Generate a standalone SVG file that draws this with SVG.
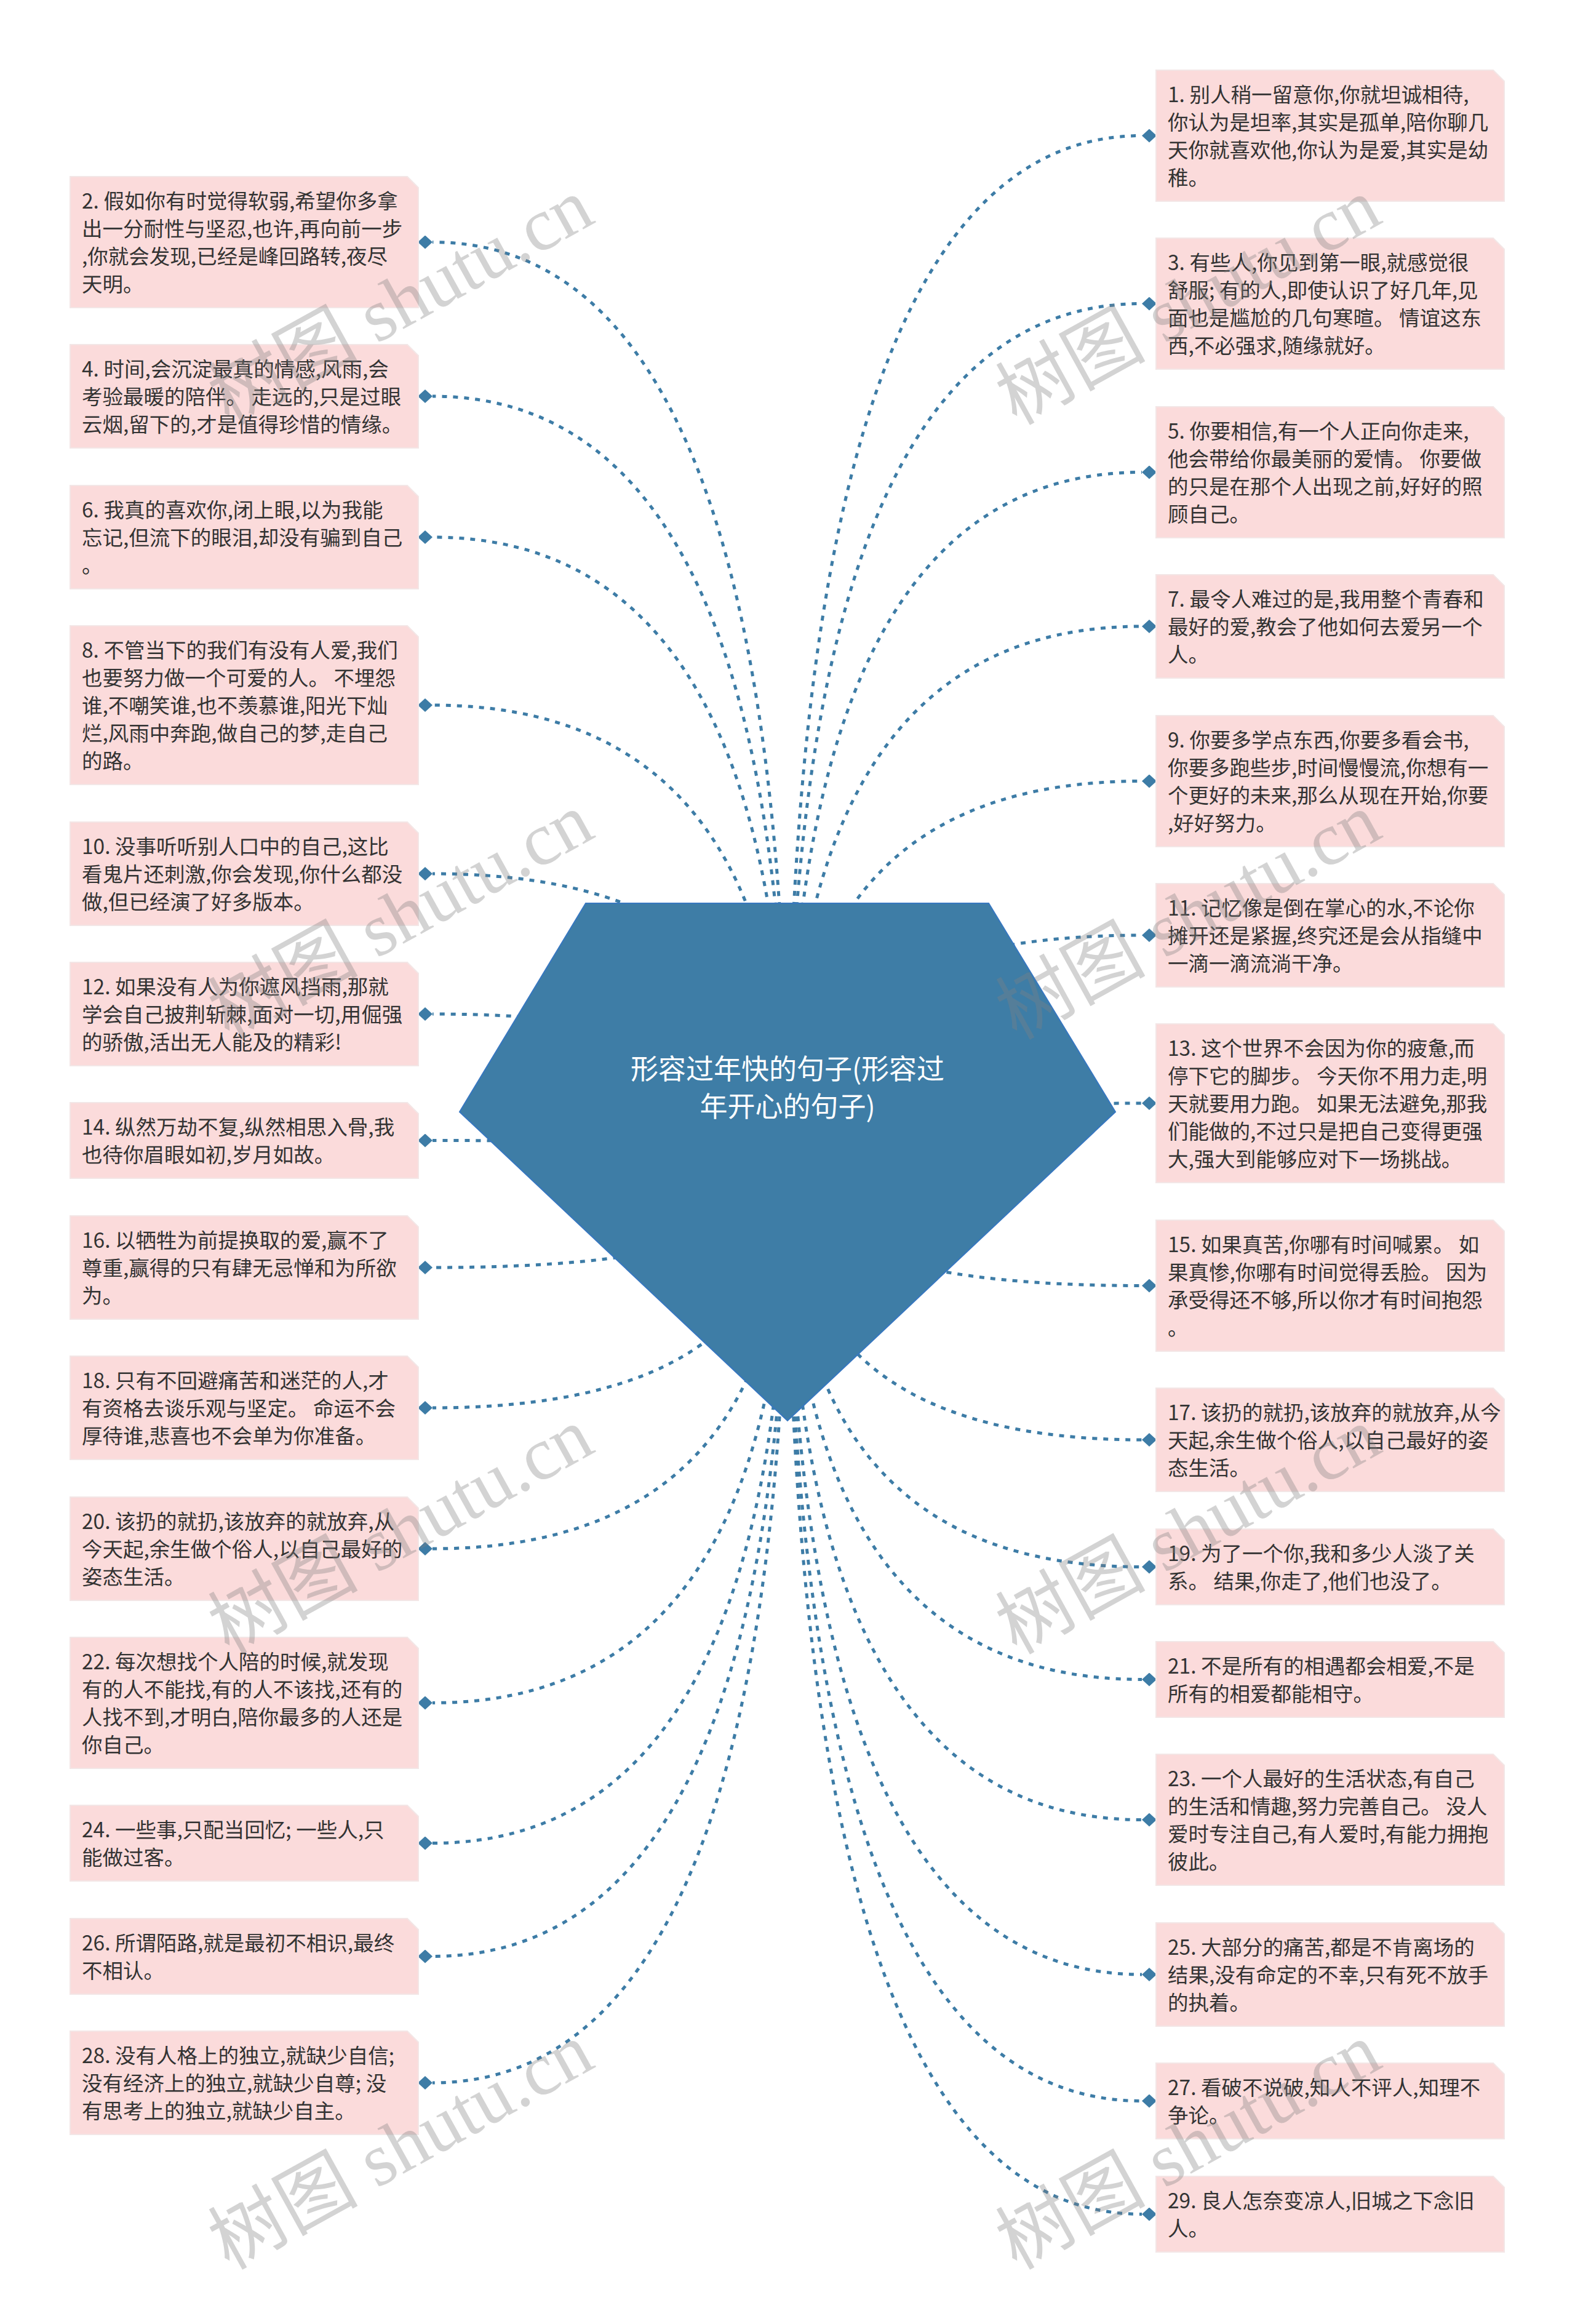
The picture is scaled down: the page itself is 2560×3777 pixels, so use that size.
<svg xmlns="http://www.w3.org/2000/svg" width="2560" height="3777" viewBox="0 0 2560 3777">
<defs>
<marker id="dia" markerWidth="24" markerHeight="22" refX="0" refY="11" orient="auto" markerUnits="userSpaceOnUse" viewBox="0 0 24 22"><path d="M0 11L12 0L24 11L12 22Z" fill="#3d7ca6"/></marker>
<style>
.box{fill:#fbdbdb;stroke:#f3e6e6;stroke-width:2}
.t{font-family:"Noto Sans CJK SC","Microsoft YaHei",sans-serif;font-size:33.5px;fill:#333}
.link{fill:none;stroke:#3d7ca6;stroke-width:5;stroke-dasharray:8 10;marker-end:url(#dia)}
.root{fill:#3e7da6;stroke:#3777c0;stroke-width:2}
.rt{font-family:"Noto Sans CJK SC","Microsoft YaHei",sans-serif;font-size:45px;fill:#fff;text-anchor:middle}
.wm{font-family:"Liberation Serif","Noto Sans CJK SC",serif;font-size:122px;fill:#808080;fill-opacity:0.35}
</style>
</defs>
<rect width="2560" height="3777" fill="#fff"/>
<g id="connectors">
<path class="link" d="M1280,1888 Q1280,220.5 1856,220.5"/>
<path class="link" d="M1280,1888 Q1280,493.5 1856,493.5"/>
<path class="link" d="M1280,1888 Q1280,767.5 1856,767.5"/>
<path class="link" d="M1280,1888 Q1280,1018 1856,1018"/>
<path class="link" d="M1280,1888 Q1280,1269.5 1856,1269.5"/>
<path class="link" d="M1280,1888 Q1280,1520 1856,1520"/>
<path class="link" d="M1280,1888 Q1280,1793 1856,1793"/>
<path class="link" d="M1280,1888 Q1280,2089.5 1856,2089.5"/>
<path class="link" d="M1280,1888 Q1280,2340 1856,2340"/>
<path class="link" d="M1280,1888 Q1280,2546.5 1856,2546.5"/>
<path class="link" d="M1280,1888 Q1280,2729.5 1856,2729.5"/>
<path class="link" d="M1280,1888 Q1280,2957.5 1856,2957.5"/>
<path class="link" d="M1280,1888 Q1280,3209 1856,3209"/>
<path class="link" d="M1280,1888 Q1280,3414.5 1856,3414.5"/>
<path class="link" d="M1280,1888 Q1280,3598.5 1856,3598.5"/>
<path class="link" d="M1280,1888 Q1280,393.5 703,393.5"/>
<path class="link" d="M1280,1888 Q1280,644 703,644"/>
<path class="link" d="M1280,1888 Q1280,873 703,873"/>
<path class="link" d="M1280,1888 Q1280,1146 703,1146"/>
<path class="link" d="M1280,1888 Q1280,1420 703,1420"/>
<path class="link" d="M1280,1888 Q1280,1648 703,1648"/>
<path class="link" d="M1280,1888 Q1280,1853.5 703,1853.5"/>
<path class="link" d="M1280,1888 Q1280,2060 703,2060"/>
<path class="link" d="M1280,1888 Q1280,2288 703,2288"/>
<path class="link" d="M1280,1888 Q1280,2517 703,2517"/>
<path class="link" d="M1280,1888 Q1280,2767.5 703,2767.5"/>
<path class="link" d="M1280,1888 Q1280,2995.5 703,2995.5"/>
<path class="link" d="M1280,1888 Q1280,3179.5 703,3179.5"/>
<path class="link" d="M1280,1888 Q1280,3385 703,3385"/>
</g>
<g id="root">
<polygon class="root" points="952,1468 1607,1468 1813,1807 1280,2309 747,1807"/>
<text class="rt"><tspan x="1280" y="1754">形容过年快的句子(形容过</tspan><tspan x="1280" y="1815">年开心的句子)</tspan></text>
</g>
<g id="n-r1"><polygon class="box" points="1879,114 2427,114 2445,132 2445,327 1879,327"/>
<text class="t"><tspan x="1898" y="166">1. 别人稍一留意你,你就坦诚相待,</tspan><tspan x="1898" y="211">你认为是坦率,其实是孤单,陪你聊几</tspan><tspan x="1898" y="256">天你就喜欢他,你认为是爱,其实是幼</tspan><tspan x="1898" y="301">稚。</tspan></text></g>
<g id="n-r3"><polygon class="box" points="1879,387 2427,387 2445,405 2445,600 1879,600"/>
<text class="t"><tspan x="1898" y="439">3. 有些人,你见到第一眼,就感觉很</tspan><tspan x="1898" y="484">舒服; 有的人,即使认识了好几年,见</tspan><tspan x="1898" y="529">面也是尴尬的几句寒暄。 情谊这东</tspan><tspan x="1898" y="574">西,不必强求,随缘就好。</tspan></text></g>
<g id="n-r5"><polygon class="box" points="1879,661 2427,661 2445,679 2445,874 1879,874"/>
<text class="t"><tspan x="1898" y="713">5. 你要相信,有一个人正向你走来,</tspan><tspan x="1898" y="758">他会带给你最美丽的爱情。 你要做</tspan><tspan x="1898" y="803">的只是在那个人出现之前,好好的照</tspan><tspan x="1898" y="848">顾自己。</tspan></text></g>
<g id="n-r7"><polygon class="box" points="1879,934 2427,934 2445,952 2445,1102 1879,1102"/>
<text class="t"><tspan x="1898" y="986">7. 最令人难过的是,我用整个青春和</tspan><tspan x="1898" y="1031">最好的爱,教会了他如何去爱另一个</tspan><tspan x="1898" y="1076">人。</tspan></text></g>
<g id="n-r9"><polygon class="box" points="1879,1163 2427,1163 2445,1181 2445,1376 1879,1376"/>
<text class="t"><tspan x="1898" y="1215">9. 你要多学点东西,你要多看会书,</tspan><tspan x="1898" y="1260">你要多跑些步,时间慢慢流,你想有一</tspan><tspan x="1898" y="1305">个更好的未来,那么从现在开始,你要</tspan><tspan x="1898" y="1350">,好好努力。</tspan></text></g>
<g id="n-r11"><polygon class="box" points="1879,1436 2427,1436 2445,1454 2445,1604 1879,1604"/>
<text class="t"><tspan x="1898" y="1488">11. 记忆像是倒在掌心的水,不论你</tspan><tspan x="1898" y="1533">摊开还是紧握,终究还是会从指缝中</tspan><tspan x="1898" y="1578">一滴一滴流淌干净。</tspan></text></g>
<g id="n-r13"><polygon class="box" points="1879,1664 2427,1664 2445,1682 2445,1922 1879,1922"/>
<text class="t"><tspan x="1898" y="1716">13. 这个世界不会因为你的疲惫,而</tspan><tspan x="1898" y="1761">停下它的脚步。 今天你不用力走,明</tspan><tspan x="1898" y="1806">天就要用力跑。 如果无法避免,那我</tspan><tspan x="1898" y="1851">们能做的,不过只是把自己变得更强</tspan><tspan x="1898" y="1896">大,强大到能够应对下一场挑战。</tspan></text></g>
<g id="n-r15"><polygon class="box" points="1879,1983 2427,1983 2445,2001 2445,2196 1879,2196"/>
<text class="t"><tspan x="1898" y="2035">15. 如果真苦,你哪有时间喊累。 如</tspan><tspan x="1898" y="2080">果真惨,你哪有时间觉得丢脸。 因为</tspan><tspan x="1898" y="2125">承受得还不够,所以你才有时间抱怨</tspan><tspan x="1898" y="2170">。</tspan></text></g>
<g id="n-r17"><polygon class="box" points="1879,2256 2427,2256 2445,2274 2445,2424 1879,2424"/>
<text class="t"><tspan x="1898" y="2308">17. 该扔的就扔,该放弃的就放弃,从今</tspan><tspan x="1898" y="2353">天起,余生做个俗人,以自己最好的姿</tspan><tspan x="1898" y="2398">态生活。</tspan></text></g>
<g id="n-r19"><polygon class="box" points="1879,2485 2427,2485 2445,2503 2445,2608 1879,2608"/>
<text class="t"><tspan x="1898" y="2537">19. 为了一个你,我和多少人淡了关</tspan><tspan x="1898" y="2582">系。 结果,你走了,他们也没了。</tspan></text></g>
<g id="n-r21"><polygon class="box" points="1879,2668 2427,2668 2445,2686 2445,2791 1879,2791"/>
<text class="t"><tspan x="1898" y="2720">21. 不是所有的相遇都会相爱,不是</tspan><tspan x="1898" y="2765">所有的相爱都能相守。</tspan></text></g>
<g id="n-r23"><polygon class="box" points="1879,2851 2427,2851 2445,2869 2445,3064 1879,3064"/>
<text class="t"><tspan x="1898" y="2903">23. 一个人最好的生活状态,有自己</tspan><tspan x="1898" y="2948">的生活和情趣,努力完善自己。 没人</tspan><tspan x="1898" y="2993">爱时专注自己,有人爱时,有能力拥抱</tspan><tspan x="1898" y="3038">彼此。</tspan></text></g>
<g id="n-r25"><polygon class="box" points="1879,3125 2427,3125 2445,3143 2445,3293 1879,3293"/>
<text class="t"><tspan x="1898" y="3177">25. 大部分的痛苦,都是不肯离场的</tspan><tspan x="1898" y="3222">结果,没有命定的不幸,只有死不放手</tspan><tspan x="1898" y="3267">的执着。</tspan></text></g>
<g id="n-r27"><polygon class="box" points="1879,3353 2427,3353 2445,3371 2445,3476 1879,3476"/>
<text class="t"><tspan x="1898" y="3405">27. 看破不说破,知人不评人,知理不</tspan><tspan x="1898" y="3450">争论。</tspan></text></g>
<g id="n-r29"><polygon class="box" points="1879,3537 2427,3537 2445,3555 2445,3660 1879,3660"/>
<text class="t"><tspan x="1898" y="3589">29. 良人怎奈变凉人,旧城之下念旧</tspan><tspan x="1898" y="3634">人。</tspan></text></g>
<g id="n-l2"><polygon class="box" points="114,287 662,287 680,305 680,500 114,500"/>
<text class="t"><tspan x="133" y="339">2. 假如你有时觉得软弱,希望你多拿</tspan><tspan x="133" y="384">出一分耐性与坚忍,也许,再向前一步</tspan><tspan x="133" y="429">,你就会发现,已经是峰回路转,夜尽</tspan><tspan x="133" y="474">天明。</tspan></text></g>
<g id="n-l4"><polygon class="box" points="114,560 662,560 680,578 680,728 114,728"/>
<text class="t"><tspan x="133" y="612">4. 时间,会沉淀最真的情感,风雨,会</tspan><tspan x="133" y="657">考验最暖的陪伴。 走远的,只是过眼</tspan><tspan x="133" y="702">云烟,留下的,才是值得珍惜的情缘。</tspan></text></g>
<g id="n-l6"><polygon class="box" points="114,789 662,789 680,807 680,957 114,957"/>
<text class="t"><tspan x="133" y="841">6. 我真的喜欢你,闭上眼,以为我能</tspan><tspan x="133" y="886">忘记,但流下的眼泪,却没有骗到自己</tspan><tspan x="133" y="931">。</tspan></text></g>
<g id="n-l8"><polygon class="box" points="114,1017 662,1017 680,1035 680,1275 114,1275"/>
<text class="t"><tspan x="133" y="1069">8. 不管当下的我们有没有人爱,我们</tspan><tspan x="133" y="1114">也要努力做一个可爱的人。 不埋怨</tspan><tspan x="133" y="1159">谁,不嘲笑谁,也不羡慕谁,阳光下灿</tspan><tspan x="133" y="1204">烂,风雨中奔跑,做自己的梦,走自己</tspan><tspan x="133" y="1249">的路。</tspan></text></g>
<g id="n-l10"><polygon class="box" points="114,1336 662,1336 680,1354 680,1504 114,1504"/>
<text class="t"><tspan x="133" y="1388">10. 没事听听别人口中的自己,这比</tspan><tspan x="133" y="1433">看鬼片还刺激,你会发现,你什么都没</tspan><tspan x="133" y="1478">做,但已经演了好多版本。</tspan></text></g>
<g id="n-l12"><polygon class="box" points="114,1564 662,1564 680,1582 680,1732 114,1732"/>
<text class="t"><tspan x="133" y="1616">12. 如果没有人为你遮风挡雨,那就</tspan><tspan x="133" y="1661">学会自己披荆斩棘,面对一切,用倔强</tspan><tspan x="133" y="1706">的骄傲,活出无人能及的精彩!</tspan></text></g>
<g id="n-l14"><polygon class="box" points="114,1792 662,1792 680,1810 680,1915 114,1915"/>
<text class="t"><tspan x="133" y="1844">14. 纵然万劫不复,纵然相思入骨,我</tspan><tspan x="133" y="1889">也待你眉眼如初,岁月如故。</tspan></text></g>
<g id="n-l16"><polygon class="box" points="114,1976 662,1976 680,1994 680,2144 114,2144"/>
<text class="t"><tspan x="133" y="2028">16. 以牺牲为前提换取的爱,赢不了</tspan><tspan x="133" y="2073">尊重,赢得的只有肆无忌惮和为所欲</tspan><tspan x="133" y="2118">为。</tspan></text></g>
<g id="n-l18"><polygon class="box" points="114,2204 662,2204 680,2222 680,2372 114,2372"/>
<text class="t"><tspan x="133" y="2256">18. 只有不回避痛苦和迷茫的人,才</tspan><tspan x="133" y="2301">有资格去谈乐观与坚定。 命运不会</tspan><tspan x="133" y="2346">厚待谁,悲喜也不会单为你准备。</tspan></text></g>
<g id="n-l20"><polygon class="box" points="114,2433 662,2433 680,2451 680,2601 114,2601"/>
<text class="t"><tspan x="133" y="2485">20. 该扔的就扔,该放弃的就放弃,从</tspan><tspan x="133" y="2530">今天起,余生做个俗人,以自己最好的</tspan><tspan x="133" y="2575">姿态生活。</tspan></text></g>
<g id="n-l22"><polygon class="box" points="114,2661 662,2661 680,2679 680,2874 114,2874"/>
<text class="t"><tspan x="133" y="2713">22. 每次想找个人陪的时候,就发现</tspan><tspan x="133" y="2758">有的人不能找,有的人不该找,还有的</tspan><tspan x="133" y="2803">人找不到,才明白,陪你最多的人还是</tspan><tspan x="133" y="2848">你自己。</tspan></text></g>
<g id="n-l24"><polygon class="box" points="114,2934 662,2934 680,2952 680,3057 114,3057"/>
<text class="t"><tspan x="133" y="2986">24. 一些事,只配当回忆; 一些人,只</tspan><tspan x="133" y="3031">能做过客。</tspan></text></g>
<g id="n-l26"><polygon class="box" points="114,3118 662,3118 680,3136 680,3241 114,3241"/>
<text class="t"><tspan x="133" y="3170">26. 所谓陌路,就是最初不相识,最终</tspan><tspan x="133" y="3215">不相认。</tspan></text></g>
<g id="n-l28"><polygon class="box" points="114,3301 662,3301 680,3319 680,3469 114,3469"/>
<text class="t"><tspan x="133" y="3353">28. 没有人格上的独立,就缺少自信;</tspan><tspan x="133" y="3398">没有经济上的独立,就缺少自尊; 没</tspan><tspan x="133" y="3443">有思考上的独立,就缺少自主。</tspan></text></g>
<g id="watermark">
<text class="wm" x="372" y="692" transform="rotate(-29 372 692)">树图 shutu.cn</text>
<text class="wm" x="1652" y="692" transform="rotate(-29 1652 692)">树图 shutu.cn</text>
<text class="wm" x="372" y="1691" transform="rotate(-29 372 1691)">树图 shutu.cn</text>
<text class="wm" x="1652" y="1691" transform="rotate(-29 1652 1691)">树图 shutu.cn</text>
<text class="wm" x="372" y="2690" transform="rotate(-29 372 2690)">树图 shutu.cn</text>
<text class="wm" x="1652" y="2690" transform="rotate(-29 1652 2690)">树图 shutu.cn</text>
<text class="wm" x="372" y="3690" transform="rotate(-29 372 3690)">树图 shutu.cn</text>
<text class="wm" x="1652" y="3690" transform="rotate(-29 1652 3690)">树图 shutu.cn</text>
</g>
</svg>
